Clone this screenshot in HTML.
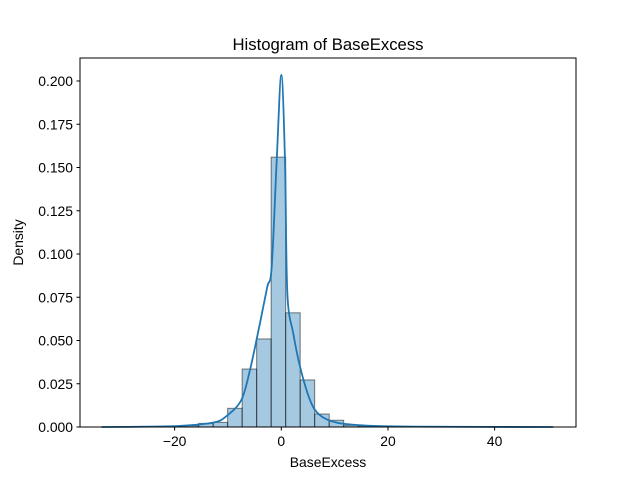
<!DOCTYPE html>
<html><head><meta charset="utf-8"><style>
html,body{margin:0;padding:0;background:#fff;}
svg{display:block;font-family:"Liberation Sans","DejaVu Sans",sans-serif;}
</style></head><body>
<svg id="chart" width="640" height="480" viewBox="0 0 640 480">
<rect width="640" height="480" fill="#fff"/>
<text x="328" y="50" text-anchor="middle" font-size="16.7" fill="#000">Histogram of BaseExcess</text>
<g id="bars"></g>
<g id="kde"></g>
<g id="xaxis"></g>
<g id="yaxis"></g>
<rect x="80" y="58" width="496" height="369" fill="none" stroke="#000" stroke-width="1"/>
<text x="328" y="467" text-anchor="middle" font-size="13.9" fill="#000">BaseExcess</text>
<text transform="translate(23,242.5) rotate(-90)" text-anchor="middle" font-size="13.9" fill="#000">Density</text>
</svg>
<script>
const binStart = -20.94;
const binWidth = 2.72;
const binDensity = [0.0004, 0.0008, 0.0021, 0.0027, 0.0108, 0.0335, 0.0509, 0.156, 0.066, 0.0272, 0.0075, 0.0039, 0.001, 0.0004, 0.0002];
const kdeX = [-33.7, -25, -19.0, -12.8, -10.24, -7.5, -5.87, -4.0, -2.63, -1.8, -0.86, 0, 0.69, 1.13, 2.25, 3.5, 5.38, 7.2, 10.4, 16.0, 25, 51];
const kdeY = [0, 0.0002, 0.0006, 0.0025, 0.0064, 0.0156, 0.033, 0.060, 0.081, 0.0925, 0.154, 0.2035, 0.154, 0.0775, 0.054, 0.035, 0.0156, 0.0069, 0.0025, 0.0008, 0.0002, 0];
const xTicks = [-20, 0, 20, 40];
const xTickLabels = ["\u221220", "0", "20", "40"];
const yTicks = [0, 0.025, 0.05, 0.075, 0.1, 0.125, 0.15, 0.175, 0.2];
const yTickLabels = ["0.000", "0.025", "0.050", "0.075", "0.100", "0.125", "0.150", "0.175", "0.200"];

const NS = "http://www.w3.org/2000/svg";
function xs(v){ return 281.3 + v * 5.333; }
function ys(v){ return 427 - v * 1730; }
function mk(tag, attrs, parent){
  const e = document.createElementNS(NS, tag);
  for (const k in attrs) e.setAttribute(k, attrs[k]);
  parent.appendChild(e);
  return e;
}
const bars = document.getElementById('bars');
binDensity.forEach((d, i) => {
  const x0 = xs(binStart + i * binWidth), x1 = xs(binStart + (i + 1) * binWidth);
  const r = mk('rect', {x: x0, y: ys(d), width: x1 - x0, height: ys(0) - ys(d), fill: 'rgba(31,119,180,0.4)', stroke: 'rgba(0,0,0,0.5)', 'stroke-width': 1}, bars);
  
  
});
const kde = document.getElementById('kde');
const pts = kdeX.map((x, i) => [xs(x), ys(kdeY[i])]);
let dstr = 'M' + pts[0][0].toFixed(2) + ' ' + pts[0][1].toFixed(2);
for (let i = 0; i < pts.length - 1; i++) {
  const p0 = pts[Math.max(0, i - 1)], p1 = pts[i], p2 = pts[i + 1], p3 = pts[Math.min(pts.length - 1, i + 2)];
  const t = 0.5 / 3;
  let c1x = p1[0] + (p2[0] - p0[0]) * t, c1y = p1[1] + (p2[1] - p0[1]) * t;
  let c2x = p2[0] - (p3[0] - p1[0]) * t, c2y = p2[1] - (p3[1] - p1[1]) * t;
  c1x = Math.min(Math.max(c1x, p1[0]), p2[0]);
  c2x = Math.min(Math.max(c2x, p1[0]), p2[0]);
  c1y = Math.min(c1y, 427); c2y = Math.min(c2y, 427);
  if (i === 10) { c2y = Math.max(c2y, p2[1]); }
  if (i === 11) { c1y = Math.max(c1y, p1[1]); }
  dstr += ' C' + c1x.toFixed(2) + ' ' + c1y.toFixed(2) + ' ' + c2x.toFixed(2) + ' ' + c2y.toFixed(2) + ' ' + p2[0].toFixed(2) + ' ' + p2[1].toFixed(2);
}
const p = mk('path', {d: dstr, fill: 'none', stroke: '#1f77b4', 'stroke-width': 1.8, 'stroke-linejoin': 'round'}, kde);


const xa = document.getElementById('xaxis');
xTicks.forEach((t, i) => {
  const l = mk('line', {x1: xs(t), x2: xs(t), y1: 427, y2: 430.5, stroke: '#000', 'stroke-width': 1}, xa);
  
  
  const tx = mk('text', {x: xs(t), y: 446, 'text-anchor': 'middle', 'font-size': 13.9, fill: '#000'}, xa);
  tx.textContent = xTickLabels[i];
  
  
});
const ya = document.getElementById('yaxis');
yTicks.forEach((t, i) => {
  const l = mk('line', {x1: 76.5, x2: 80, y1: ys(t), y2: ys(t), stroke: '#000', 'stroke-width': 1}, ya);
  
  
  const tx = mk('text', {x: 73, y: ys(t) + 5, 'text-anchor': 'end', 'font-size': 13.9, fill: '#000'}, ya);
  tx.textContent = yTickLabels[i];
  
  
});
</script>
</body></html>
